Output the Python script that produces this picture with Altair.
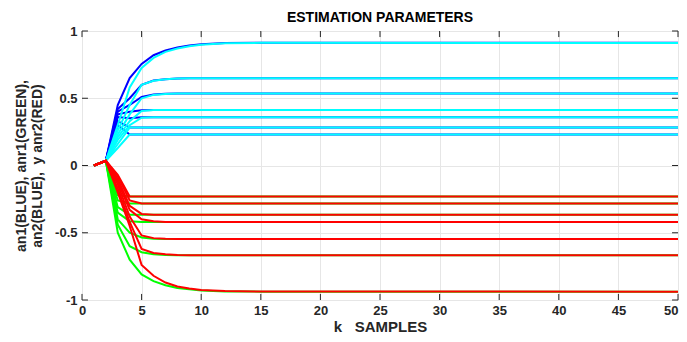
import altair as alt
import pandas as pd

# sample index
K = [1, 2, 3, 4, 5, 6, 7, 8, 9, 10, 12, 15, 50]

# an1 (dark blue) estimates
BLUE = {
    "b1": [0, 0.035, 0.45, 0.65, 0.755, 0.82, 0.855, 0.878, 0.893, 0.902, 0.91, 0.913, 0.913],
    "b2": [0, 0.035, 0.42, 0.50, 0.60, 0.632, 0.642, 0.646, 0.648, 0.648, 0.648, 0.648, 0.648],
    "b3": [0, 0.035, 0.40, 0.45, 0.51, 0.527, 0.533, 0.535, 0.535, 0.535, 0.535, 0.535, 0.535],
    "b4": [0, 0.035, 0.38, 0.40, 0.41, 0.413, 0.413, 0.413, 0.413, 0.413, 0.413, 0.413, 0.413],
    "b5": [0, 0.035, 0.36, 0.352, 0.358, 0.359, 0.359, 0.359, 0.359, 0.359, 0.359, 0.359, 0.359],
    "b6": [0, 0.035, 0.33, 0.282, 0.282, 0.282, 0.282, 0.282, 0.282, 0.282, 0.282, 0.282, 0.282],
    "b7": [0, 0.035, 0.30, 0.23, 0.23, 0.23, 0.23, 0.23, 0.23, 0.23, 0.23, 0.23, 0.23],
}
# an2 (cyan) estimates
CYAN = {
    "c1": [0, 0.035, 0.30, 0.58, 0.725, 0.80, 0.845, 0.87, 0.887, 0.898, 0.908, 0.912, 0.91],
    "c2": [0, 0.035, 0.26, 0.45, 0.60, 0.63, 0.642, 0.646, 0.648, 0.648, 0.648, 0.648, 0.648],
    "c3": [0, 0.035, 0.23, 0.38, 0.50, 0.525, 0.532, 0.535, 0.535, 0.535, 0.535, 0.535, 0.535],
    "c4": [0, 0.035, 0.21, 0.33, 0.405, 0.412, 0.413, 0.413, 0.413, 0.413, 0.413, 0.413, 0.413],
    "c5": [0, 0.035, 0.19, 0.30, 0.355, 0.359, 0.359, 0.359, 0.359, 0.359, 0.359, 0.359, 0.359],
    "c6": [0, 0.035, 0.16, 0.282, 0.282, 0.282, 0.282, 0.282, 0.282, 0.282, 0.282, 0.282, 0.282],
    "c7": [0, 0.035, 0.13, 0.23, 0.23, 0.23, 0.23, 0.23, 0.23, 0.23, 0.23, 0.23, 0.23],
}
# anr1 (green) estimates
GREEN = {
    "g1": [0, 0.035, -0.22, -0.23, -0.23, -0.23, -0.23, -0.23, -0.23, -0.23, -0.23, -0.23, -0.23],
    "g2": [0, 0.035, -0.26, -0.282, -0.282, -0.282, -0.282, -0.282, -0.282, -0.282, -0.282, -0.282, -0.282],
    "g3": [0, 0.035, -0.31, -0.366, -0.366, -0.366, -0.366, -0.366, -0.366, -0.366, -0.366, -0.366, -0.366],
    "g4": [0, 0.035, -0.35, -0.415, -0.42, -0.42, -0.42, -0.42, -0.42, -0.42, -0.42, -0.42, -0.42],
    "g5": [0, 0.035, -0.40, -0.50, -0.535, -0.545, -0.547, -0.547, -0.547, -0.547, -0.547, -0.547, -0.547],
    "g6": [0, 0.035, -0.44, -0.60, -0.645, -0.66, -0.665, -0.668, -0.668, -0.668, -0.668, -0.668, -0.668],
    "g7": [0, 0.035, -0.50, -0.70, -0.81, -0.86, -0.89, -0.91, -0.92, -0.93, -0.936, -0.938, -0.938],
}
# anr2 (red) estimates
RED = {
    "r1": [0, 0.035, -0.07, -0.23, -0.23, -0.23, -0.23, -0.23, -0.23, -0.23, -0.23, -0.23, -0.23],
    "r2": [0, 0.035, -0.08, -0.26, -0.282, -0.282, -0.282, -0.282, -0.282, -0.282, -0.282, -0.282, -0.282],
    "r3": [0, 0.035, -0.10, -0.30, -0.36, -0.366, -0.366, -0.366, -0.366, -0.366, -0.366, -0.366, -0.366],
    "r4": [0, 0.035, -0.12, -0.33, -0.40, -0.415, -0.42, -0.42, -0.42, -0.42, -0.42, -0.42, -0.42],
    "r5": [0, 0.035, -0.14, -0.38, -0.52, -0.54, -0.545, -0.547, -0.547, -0.547, -0.547, -0.547, -0.547],
    "r6": [0, 0.035, -0.17, -0.42, -0.62, -0.65, -0.66, -0.665, -0.668, -0.668, -0.668, -0.668, -0.668],
    "r7": [0, 0.035, -0.20, -0.45, -0.74, -0.82, -0.87, -0.90, -0.915, -0.925, -0.933, -0.937, -0.938],
}

X_TICKS = [0, 5, 10, 15, 20, 25, 30, 35, 40, 45, 50]
Y_TICKS = [-1, -0.5, 0, 0.5, 1]

FONT = "Liberation Sans"
INK = "#262626"
NB = "\u00a0"

groups = [("blue", BLUE, "#0000ff"), ("cyan", CYAN, "#00ffff"),
          ("green", GREEN, "#00ff00"), ("red", RED, "#ff0000")]

X = alt.X("k:Q", scale=alt.Scale(domain=[0, 50], nice=False, zero=False),
          axis=alt.Axis(values=X_TICKS, title="k" + NB * 3 + "SAMPLES", ticks=False, domain=False,
                        grid=True, gridColor="#e6e6e6", labelFont=FONT, labelFontWeight="bold",
                        labelFontSize=13, labelColor=INK, labelPadding=4, labelFlush=False,
                        labelAlign=alt.condition("datum.value == 50", alt.value("right"), alt.value("center")),
                        titleFont=FONT, titleFontWeight="bold", titleFontSize=15,
                        titleColor=INK, titlePadding=2))
Y = alt.Y("v:Q", scale=alt.Scale(domain=[-1, 1], nice=False),
          axis=alt.Axis(values=Y_TICKS,
                        title=["an1(BLUE), anr1(GREEN),", "an2(BLUE)," + NB * 2 + "y anr2(RED)"],
                        ticks=False, domain=False, grid=True, gridColor="#e6e6e6",
                        labelExpr="toString(datum.value)", labelFont=FONT, labelFontWeight="bold",
                        labelFontSize=13, labelColor=INK, labelPadding=5, labelFlush=False,
                        titleFont=FONT, titleFontWeight="bold", titleFontSize=14,
                        titleColor=INK, titlePadding=10, titleLineHeight=16))

layers = []
for grp, series, col in groups:
    rows = []
    for name, vals in series.items():
        for k, v in zip(K, vals):
            rows.append({"k": k, "v": v, "sid": name})
    df = pd.DataFrame(rows)
    layers.append(alt.Chart(df).mark_line(color=col, strokeWidth=2, clip=True)
                  .encode(x=X, y=Y, detail="sid:N"))

# inward tick marks on all four sides (MATLAB box style)
tk = []
for t in X_TICKS:
    tk.append({"k": t, "k2": t, "v": -1, "v2": -0.955})
    tk.append({"k": t, "k2": t, "v": 1, "v2": 0.955})
for t in Y_TICKS:
    tk.append({"k": 0, "k2": 0.5, "v": t, "v2": t})
    tk.append({"k": 50, "k2": 49.5, "v": t, "v2": t})
ticks = alt.Chart(pd.DataFrame(tk)).mark_rule(color=INK, strokeWidth=1).encode(
    x=X, x2="k2:Q", y=Y, y2="v2:Q")

chart = alt.layer(*layers, ticks).properties(
    width=596, height=269,
    title=alt.TitleParams("ESTIMATION PARAMETERS", font=FONT, fontWeight="bold", fontSize=14,
                          color="black", anchor="middle", offset=0),
    autosize="none",
    padding={"left": 74, "top": 23, "right": 1, "bottom": 34},
).configure_view(stroke=INK, strokeWidth=1).configure(background="white")

chart.save("out.html", embed_options={"renderer": "svg", "actions": False})
